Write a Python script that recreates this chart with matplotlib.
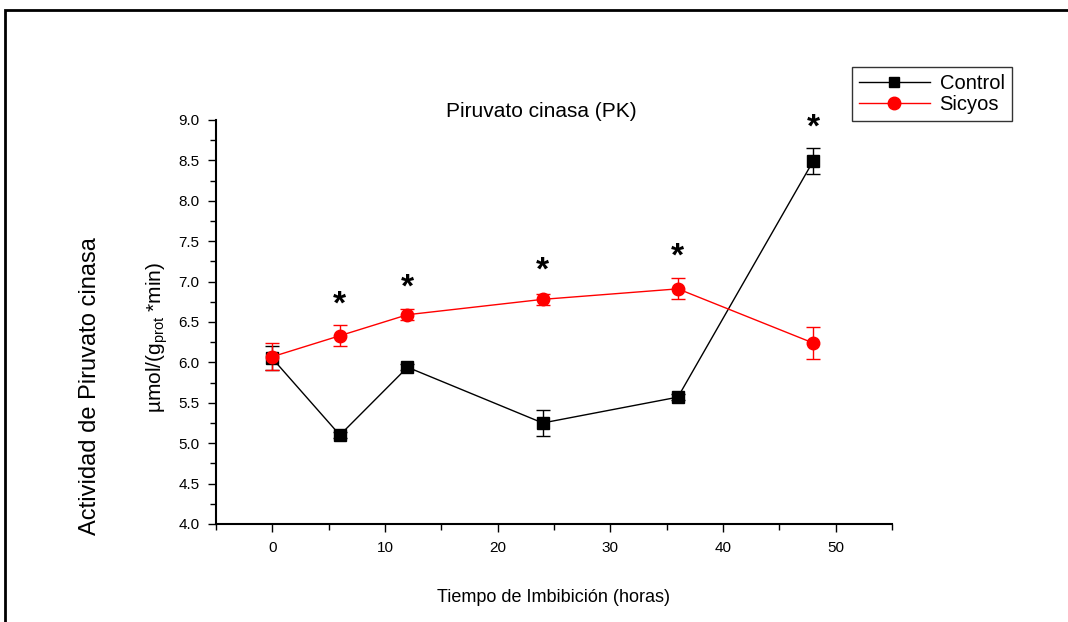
import numpy as np
import matplotlib
matplotlib.use("Agg")
import matplotlib.pyplot as plt
from matplotlib.patches import Rectangle
from matplotlib.lines import Line2D
from matplotlib.ticker import MultipleLocator, FormatStrFormatter

plt.rcParams['font.family'] = ['Liberation Sans', 'DejaVu Sans']

# datos
horas = [0, 6, 12, 24, 36, 48]
control = [6.05, 5.10, 5.94, 5.25, 5.57, 8.49]
control_err = [0.15, 0.04, 0.04, 0.16, 0.04, 0.16]
sicyos = [6.07, 6.33, 6.59, 6.78, 6.91, 6.24]
sicyos_err = [0.17, 0.13, 0.07, 0.07, 0.13, 0.20]
# asteriscos de significancia (centro del simbolo)
est_x = [6, 12, 24, 36, 48]
est_y = [6.80, 7.00, 7.21, 7.39, 8.98]

fig = plt.figure(figsize=(10.68, 6.22), dpi=100)
# marco exterior
fig.patches.append(Rectangle((0.005, -0.05), 1.2, 1.034, transform=fig.transFigure,
                             fill=False, edgecolor='black', linewidth=2))

ax = fig.add_axes([0.2022, 0.1576, 0.633, 0.6495])

ax.errorbar(horas, control, yerr=control_err, color='black', marker='s', markersize=8,
            linewidth=1, capsize=5, elinewidth=1)
ax.errorbar(horas, sicyos, yerr=sicyos_err, color='red', marker='o', markersize=9,
            linewidth=1, capsize=5, elinewidth=1)

for x, y in zip(est_x, est_y):
    ax.annotate('*', (x, y), xytext=(0, -5), textcoords='offset points',
                fontsize=24, fontweight='bold', ha='center', va='center')

ax.set_xlim(-5, 55)
ax.set_ylim(4.0, 9.0)
ax.xaxis.set_major_locator(MultipleLocator(10))
ax.xaxis.set_minor_locator(MultipleLocator(5))
ax.yaxis.set_major_locator(MultipleLocator(0.5))
ax.yaxis.set_minor_locator(MultipleLocator(0.25))
ax.yaxis.set_major_formatter(FormatStrFormatter('%.1f'))
ax.tick_params(which='major', length=6, width=1, labelsize=11, pad=6)
ax.tick_params(which='minor', length=4, width=1)
ax.spines['top'].set_visible(False)
ax.spines['right'].set_visible(False)
ax.spines['left'].set_linewidth(1.5)
ax.spines['bottom'].set_linewidth(1.5)

ax.text(0.482, 1.022, 'Piruvato cinasa (PK)', transform=ax.transAxes,
        fontsize=15, ha='center', va='center')

ax.set_xlabel('Tiempo de Imbibición (horas)', fontsize=13, va='center')
ax.xaxis.set_label_coords(0.5, -0.183)

# etiqueta del eje y en dos lineas
fig.text(0.0843, 0.379, 'Actividad de Piruvato cinasa', rotation=90,
         fontsize=17, ha='center', va='center')
fig.text(0.147, 0.457, r'µmol/(g$_{\mathregular{prot}}$ *min)', rotation=90,
         fontsize=15, ha='center', va='center')

handles = [Line2D([], [], color='black', marker='s', markersize=7, linewidth=1),
           Line2D([], [], color='red', marker='o', markersize=9, linewidth=1)]
leg = fig.legend(handles, ['Control', 'Sicyos'], loc='upper left',
                 bbox_to_anchor=(852 / 1068, 1 - 67 / 622), fontsize=14.5,
                 frameon=True, fancybox=False, edgecolor='black', borderpad=0.35,
                 handlelength=3.5, labelspacing=0.1, handletextpad=0.5,
                 borderaxespad=0)
leg.get_frame().set_linewidth(1)

fig.savefig('out.png', dpi=100)
